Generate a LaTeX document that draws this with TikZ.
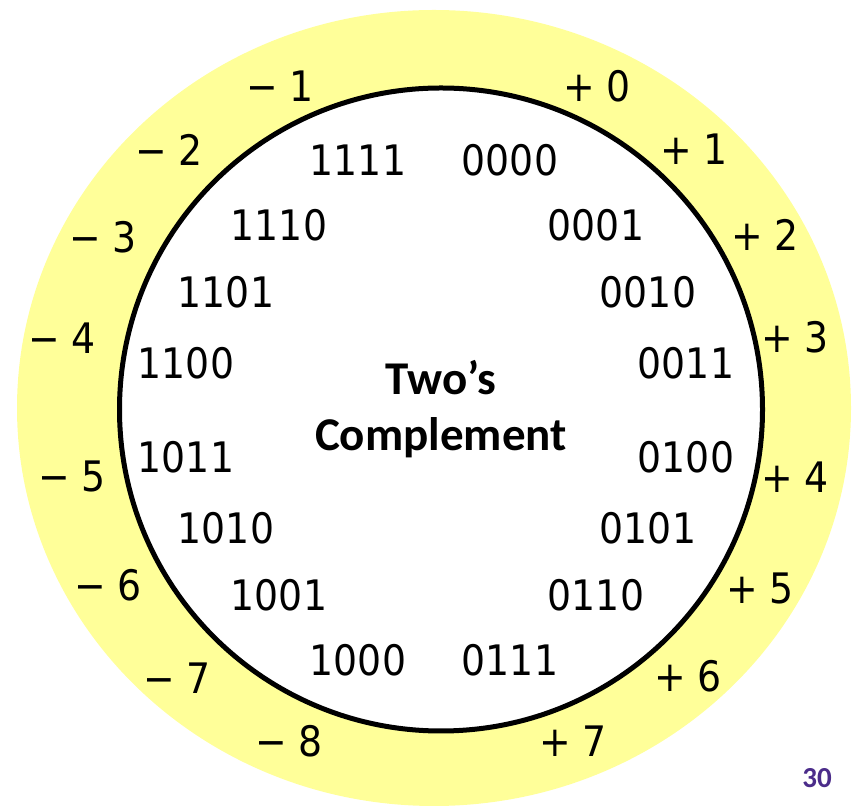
\documentclass[tikz,border=0pt]{standalone}
\usepackage{fontspec}
\setmainfont{DejaVu Sans Condensed}
\newfontfamily\calib{Carlito}
\definecolor{ringyellow}{HTML}{FFFF99}
\definecolor{pagepurple}{HTML}{4B2C8A}
\begin{document}
\begin{tikzpicture}[x=1pt,y=1pt,
  bits/.style={font=\fontsize{42}{42}\selectfont, inner sep=0pt},
  sgn/.style={font=\fontsize{42}{42}\selectfont, inner sep=0pt},
  title/.style={font=\calib\bfseries\fontsize{47}{56}\selectfont, align=center, inner sep=0pt}]
\useasboundingbox (0,0) rectangle (853,805);
\begin{scope}
\clip (0,0) rectangle (853,805);
\fill[ringyellow] (434,397) ellipse [x radius=417, y radius=398];
\end{scope}
\draw[fill=white, line width=5pt] (441,395.5) circle [radius=321.5];
% inner binary
\node[bits] (b15) at (358,645) {1111};
\node[bits] (b0)  at (510,645) {0000};
\node[bits] (b14) at (279,580) {1110};
\node[bits] (b1)  at (596,580) {0001};
\node[bits] (b13) at (226,513) {1101};
\node[bits] (b2)  at (648,513) {0010};
\node[bits] (b12) at (186,442) {1100};
\node[bits] (b3)  at (686,442) {0011};
\node[bits] (b11) at (186,348) {1011};
\node[bits] (b4)  at (686,348) {0100};
\node[bits] (b10) at (226,277) {1010};
\node[bits] (b5)  at (648,277) {0101};
\node[bits] (b9)  at (279,210) {1001};
\node[bits] (b6)  at (596,210) {0110};
\node[bits] (b8)  at (358,145) {1000};
\node[bits] (b7)  at (510,145) {0111};
% outer signed values
\node[sgn] (m1) at (280,719) {− 1};
\node[sgn] (p0) at (597,719) {+ 0};
\node[sgn] (m2) at (169,655) {− 2};
\node[sgn] (p1) at (694,656) {+ 1};
\node[sgn] (m3) at (103,568) {− 3};
\node[sgn] (p2) at (765,570) {+ 2};
\node[sgn] (m4) at (62,467) {− 4};
\node[sgn] (p3) at (795,468) {+ 3};
\node[sgn] (m5) at (72,329) {− 5};
\node[sgn] (p4) at (795,328) {+ 4};
\node[sgn] (m6) at (108,220) {− 6};
\node[sgn] (p5) at (760,217) {+ 5};
\node[sgn] (m7) at (177,127) {− 7};
\node[sgn] (p6) at (688,129) {+ 6};
\node[sgn] (m8) at (289,64) {− 8};
\node[sgn] (p7) at (573,64) {+ 7};
% title
\node[title] (t) at (441,396) {Two’s\\Complement};
\node[font=\calib\bfseries\fontsize{29}{29}\selectfont, text=pagepurple, inner sep=0pt] (pg) at (817,27) {30};
\end{tikzpicture}
\end{document}
